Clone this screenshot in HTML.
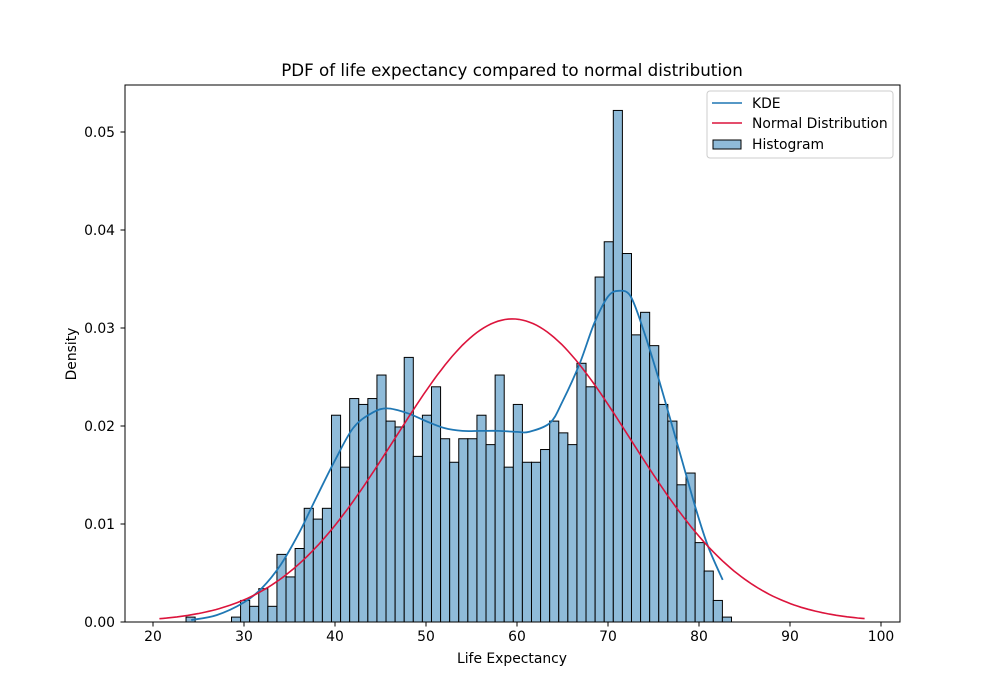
<!DOCTYPE html>
<html><head><meta charset="utf-8"><style>
html,body{margin:0;padding:0;background:#fff;}
svg{display:block;font-family:"DejaVu Sans","Liberation Sans",sans-serif;}
</style></head><body>
<svg id="chart" width="1000" height="700" viewBox="0 0 1000 700">
<rect x="0" y="0" width="1000" height="700" fill="#fff"/>
<g id="bars"></g>
<g id="curves"></g>
<rect x="125" y="85" width="775" height="537" fill="none" stroke="#000" stroke-width="1"/>
<g id="xticks"></g>
<g id="yticks"></g>
<text x="512" y="76" text-anchor="middle" font-size="16.7">PDF of life expectancy compared to normal distribution</text>
<text x="512" y="663" text-anchor="middle" font-size="13.9">Life Expectancy</text>
<text transform="translate(76,354) rotate(-90)" text-anchor="middle" font-size="13.9">Density</text>
<g>
<rect x="707" y="91" width="186" height="67" rx="3" fill="#fff" fill-opacity="0.8" stroke="#ccc"/>
<line x1="712" y1="103" x2="742" y2="103" stroke="#1f77b4" stroke-width="1.6"/>
<text x="752" y="108" font-size="13.9">KDE</text>
<line x1="712" y1="123" x2="742" y2="123" stroke="#dc143c" stroke-width="1.6"/>
<text x="752" y="128" font-size="13.9">Normal Distribution</text>
<rect x="713" y="140" width="28" height="9" fill="#8fbbd9" stroke="#000"/>
<text x="752" y="149" font-size="13.9">Histogram</text>
</g>
</svg>
<script>
const binStart = 23.63;
const binWidth = 0.999;
const binHeights = [0.0005,0,0,0,0,0.0005,0.0022,0.0016,0.0034,0.0016,0.0069,0.0046,0.0075,0.0116,0.0105,0.0116,0.0211,0.0158,0.0228,0.0222,0.0228,0.0252,0.0205,0.0199,0.027,0.0169,0.0211,0.024,0.0187,0.0163,0.0187,0.0187,0.0211,0.0181,0.0252,0.0158,0.0222,0.0163,0.0163,0.0176,0.0205,0.0193,0.0181,0.0264,0.024,0.0352,0.0388,0.0522,0.0376,0.0293,0.0316,0.0282,0.0222,0.0205,0.014,0.0152,0.0081,0.0052,0.0022,0.0005];
const kdeX = [24.2,27,30,32,34,36,38,40,42,44,45.7,48,50,52,54,56,58,60,61.3,63.6,65,66.9,68.5,70,71.2,72.5,74,75.6,77.7,79.7,81,82.6];
const kdeY = [0.0002,0.0007,0.002,0.0035,0.0058,0.009,0.0128,0.0165,0.0198,0.0213,0.0218,0.0213,0.0205,0.0198,0.0195,0.0195,0.0195,0.0194,0.0194,0.0203,0.0225,0.0264,0.0305,0.0332,0.0338,0.0332,0.0295,0.0247,0.0179,0.0114,0.0077,0.0043];
const normMean = 59.5;
const normStd = 12.9;
const normRange = [20.7, 98.2];
const xTicks = [20,30,40,50,60,70,80,90,100];
const yTicks = [0,0.01,0.02,0.03,0.04,0.05];
const yTickLabels = ["0.00","0.01","0.02","0.03","0.04","0.05"];

const NS = "http://www.w3.org/2000/svg";
const xs = v => 153 + (v - 20) * 9.1;
const ys = v => 622 - v * 9800;
function mk(tag, attrs, parent){const e=document.createElementNS(NS,tag);for(const k in attrs)e.setAttribute(k,attrs[k]);parent.appendChild(e);return e;}

const bars = document.getElementById('bars');
binHeights.forEach((h,i)=>{
  if(h<=0) return;
  const x0 = xs(binStart + i*binWidth), x1 = xs(binStart + (i+1)*binWidth);
  const r = mk('rect',{x:x0,y:ys(h),width:x1-x0,height:ys(0)-ys(h),fill:'#8fbbd9',stroke:'#000','stroke-width':1},bars);
  
  
});

const curves = document.getElementById('curves');
const P = kdeX.map((x,i)=>[xs(x), ys(kdeY[i])]);
let d = 'M'+P[0][0].toFixed(1)+','+P[0][1].toFixed(1);
for(let i=0;i<P.length-1;i++){
  const p0=P[Math.max(0,i-1)], p1=P[i], p2=P[i+1], p3=P[Math.min(P.length-1,i+2)];
  const c1=[p1[0]+(p2[0]-p0[0])/6, p1[1]+(p2[1]-p0[1])/6];
  const c2=[p2[0]-(p3[0]-p1[0])/6, p2[1]-(p3[1]-p1[1])/6];
  d += ' C'+c1.map(v=>v.toFixed(1)).join(',')+' '+c2.map(v=>v.toFixed(1)).join(',')+' '+p2.map(v=>v.toFixed(1)).join(',');
}
const kl = mk('path',{d:d,fill:'none',stroke:'#1f77b4','stroke-width':1.8,'stroke-linejoin':'round'},curves);



const np = [];
for(let k=0;k<=200;k++){
  const x = normRange[0] + (normRange[1]-normRange[0])*k/200;
  const y = Math.exp(-0.5*((x-normMean)/normStd)**2)/(normStd*Math.sqrt(2*Math.PI));
  np.push(xs(x).toFixed(1)+','+ys(y).toFixed(1));
}
const nl = mk('polyline',{points:np.join(' '),fill:'none',stroke:'#dc143c','stroke-width':1.6},curves);



const xg = document.getElementById('xticks');
xTicks.forEach(t=>{
  const x = xs(t);
  mk('line',{x1:x,y1:622,x2:x,y2:626.5,stroke:'#000'},xg);
  const tx = mk('text',{x:x,y:641,'text-anchor':'middle','font-size':13.9},xg);
  tx.textContent = t;
  
  
});
const yg = document.getElementById('yticks');
yTicks.forEach((t,i)=>{
  const y = ys(t);
  mk('line',{x1:120.5,y1:y,x2:125,y2:y,stroke:'#000'},yg);
  const tx = mk('text',{x:115,y:y+5,'text-anchor':'end','font-size':13.9},yg);
  tx.textContent = yTickLabels[i];
  
  
});
</script>
</body></html>
